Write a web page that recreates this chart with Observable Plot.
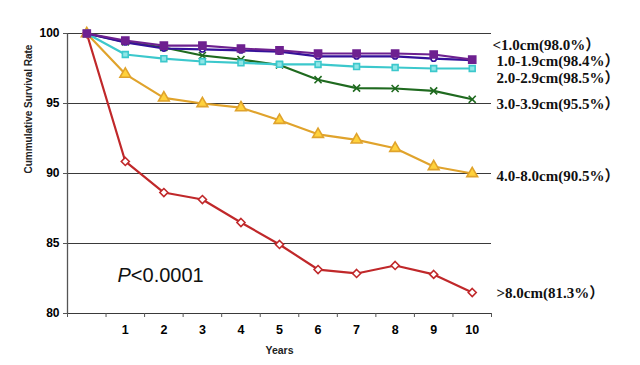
<!DOCTYPE html>
<html>
<head>
<meta charset="utf-8">
<script src="https://cdn.jsdelivr.net/npm/d3@7"></script>
<script src="https://cdn.jsdelivr.net/npm/@observablehq/plot@0.6"></script>
<style>
  html, body { margin: 0; padding: 0; background: #fff; }
  svg { display: block; }
</style>
</head>
<body>
<div id="chart"></div>
<script>
// ---- data ----
const years = [0, 1, 2, 3, 4, 5, 6, 7, 8, 9, 10];
const yTicks = [80, 85, 90, 95, 100];
const xTickLabels = [1, 2, 3, 4, 5, 6, 7, 8, 9, 10];
const seriesNames = ["<1.0cm(98.0%）", "1.0-1.9cm(98.4%）", "2.0-2.9cm(98.5%）", "3.0-3.9cm(95.5%）", "4.0-8.0cm(90.5%）", ">8.0cm(81.3%）"];
const lt1 = [100, 99.5, 99.14, 99.14, 98.93, 98.79, 98.57, 98.57, 98.57, 98.5, 98.14];
const s1to19 = [100, 99.36, 98.93, 98.86, 98.79, 98.7, 98.36, 98.36, 98.36, 98.2, 98.1];
const s2to29 = [100, 98.5, 98.2, 98.0, 97.9, 97.8, 97.79, 97.64, 97.57, 97.5, 97.5];
const s3to39 = [100, 99.4, 99.0, 98.43, 98.14, 97.75, 96.7, 96.1, 96.07, 95.9, 95.3];
const s4to8 = [100, 97.1, 95.4, 95.0, 94.7, 93.8, 92.8, 92.4, 91.8, 90.5, 90.0];
const gt8 = [100, 90.86, 88.64, 88.14, 86.5, 84.93, 83.14, 82.86, 83.43, 82.79, 81.5];
const pText = "P<0.0001";

// ---- styles ----
const styles = [
  {stroke: "#6e2190", fill: "#6e2190", symbol: "square", r: 4, dy: -14, dx: 1},
  {stroke: "#34119a", fill: "#ffffff", symbol: "circle", r: 2.6, dy: 1, dx: 5},
  {stroke: "#3cc8cc", fill: "#8fe6e6", symbol: "square", r: 3.3, dy: 10, dx: 5},
  {stroke: "#1f6a1f", fill: "none", symbol: "times", r: 3.3, dy: 5, dx: 5},
  {stroke: "#e0a32c", fill: "#ffd23c", symbol: "triangle", r: 4, dy: 3, dx: 5},
  {stroke: "#c0282a", fill: "#ffffff", symbol: "diamond2", r: 3.6, dy: 1, dx: 5}
];
const values = [lt1, s1to19, s2to29, s3to39, s4to8, gt8];
const series = seriesNames.map((name, i) => ({
  name, style: styles[i],
  rows: years.map((yr, j) => ({year: yr, value: values[i][j]}))
}));
const boundaries = years.concat([years.length]).map(v => v - 0.5);
const sans = "Liberation Sans, Arial, sans-serif";
const serif = "Liberation Serif, Times New Roman, 'Noto Sans CJK SC', serif";

const marks = [
  Plot.ruleY(yTicks, {stroke: "#3a3a3a", strokeWidth: 1.2}),
  Plot.ruleX([boundaries[0]], {stroke: "#555", strokeWidth: 1.3}),
  Plot.axisY({ticks: yTicks, tickSize: 4, tickPadding: 4, fontSize: 12, fontWeight: "bold", fontFamily: sans, label: null, stroke: "#555"}),
  Plot.axisX({ticks: boundaries, tickSize: 4, tickFormat: () => "", label: null, stroke: "#555"}),
  Plot.axisX({ticks: xTickLabels, tickSize: 0, tickPadding: 12, fontSize: 12.5, fontWeight: "bold", fontFamily: sans, label: null}),
  Plot.text(["Cummulative Survival Rate"], {frameAnchor: "left", rotate: -90, dx: -39, fontSize: 10, fontWeight: "bold", fontFamily: sans, fill: "#222"}),
  Plot.text(["Years"], {frameAnchor: "bottom", dy: 40, fontSize: 10.5, fontWeight: "bold", fontFamily: sans, fill: "#222"}),
  Plot.text([pText], {frameAnchor: "bottom-left", dx: 50, dy: -32, textAnchor: "start", lineAnchor: "bottom", fontSize: 20, fontFamily: sans, fill: "#111"})
];

// draw from bottom series up so purple is on top
for (const s of series.slice().reverse()) {
  marks.push(Plot.line(s.rows, {x: "year", y: "value", stroke: s.style.stroke, strokeWidth: 2.2}));
  marks.push(Plot.dot(s.rows, {x: "year", y: "value", symbol: s.style.symbol, r: s.style.r, stroke: s.style.stroke, fill: s.style.fill, strokeWidth: 1.6}));
}
for (const s of series) {
  const last = s.rows[s.rows.length - 1];
  marks.push(Plot.text([last], {y: "value", text: () => s.name, frameAnchor: "right", textAnchor: "start", dx: s.style.dx, dy: s.style.dy, fontSize: 15, fontWeight: "bold", fontFamily: serif, fill: "#111"}));
}

const chart = Plot.plot({
  width: 640,
  height: 365,
  marginLeft: 67,
  marginRight: 149,
  marginTop: 33,
  marginBottom: 52,
  x: {type: "linear", domain: [boundaries[0], boundaries[boundaries.length - 1]]},
  y: {domain: [80, 100]},
  style: {background: "#fff", overflow: "visible"},
  marks
});

// italic P
d3.select(chart).selectAll("text").filter(function () { return this.textContent === pText; })
  .each(function () {
    const t = d3.select(this);
    t.text(null);
    t.append("tspan").attr("font-style", "italic").text(pText.slice(0, 1));
    t.append("tspan").text(pText.slice(1));
  });

document.getElementById("chart").append(chart);
</script>
</body>
</html>
